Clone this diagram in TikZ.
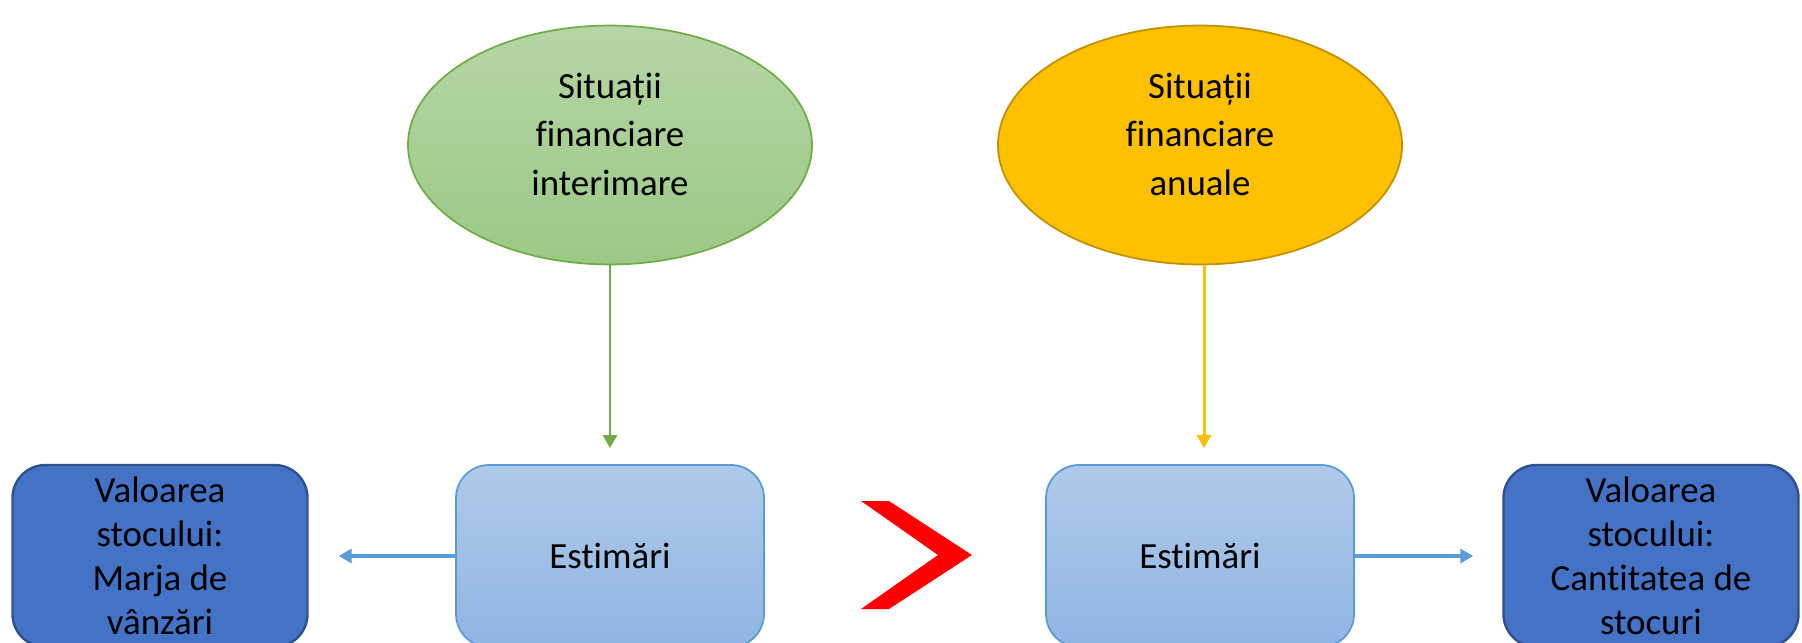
\documentclass[tikz,border=0pt]{standalone}
\usepackage{fontspec}
\setmainfont{Carlito}[Ligatures=NoCommon]
\usepackage{tikz}
\usetikzlibrary{arrows.meta,shapes.geometric}
\definecolor{leafline}{HTML}{70AD47}
\definecolor{leaftop}{HTML}{B5D5A5}
\definecolor{leafbot}{HTML}{9BC985}
\definecolor{goldfill}{HTML}{FFC000}
\definecolor{goldline}{HTML}{BF9000}
\definecolor{skyline}{HTML}{5B9BD5}
\definecolor{skytop}{HTML}{AFCAE9}
\definecolor{skybot}{HTML}{8FB5E3}
\definecolor{navyfill}{HTML}{4472C4}
\definecolor{navyline}{HTML}{2F528F}
\newcommand{\ovaltext}[1]{\raisebox{0.8mm}[\height][\depth]{\begin{tabular}{@{}c@{}}#1\end{tabular}}}

\begin{document}
\begin{tikzpicture}[x=0.1mm,y=-0.1mm]
        \tikzset{arr/.style={-{Triangle[length=1.3mm, width=1.4mm]}, line width=0.85pt},
                 oval/.style={ellipse, minimum width=40.4mm, minimum height=23.4mm, line width=0.5pt, font=\fontsize{10.5}{13.8}\selectfont},
                 estbox/.style={rectangle, rounded corners=3.3mm, minimum width=30.8mm, minimum height=18.2mm, draw=skyline, top color=skytop, bottom color=skybot, line width=0.5pt, font=\fontsize{10.5}{12.5}\selectfont},
                 valbox/.style={rectangle, rounded corners=3.3mm, minimum width=29.5mm, minimum height=18.2mm, inner sep=0pt, align=center, draw=navyline, fill=navyfill, line width=0.7pt, font=\fontsize{10.5}{12.5}\selectfont}}
        \useasboundingbox (0,0) rectangle (1802,643);
        \clip (0,0) rectangle (1802,643);
        % statements on top
        \node[oval, draw=leafline, top color=leaftop, bottom color=leafbot] (interim) at (610,145) {\ovaltext{Situații\\financiare\\interimare}};
        \node[oval, draw=goldline, fill=goldfill] (anual) at (1200,145) {\ovaltext{Situații\\financiare\\anuale}};
        
        % estimates and stock values
        \node[estbox] (est1) at (610,556) {Estimări};
        \node[estbox] (est2) at (1200,556) {Estimări};
        \node[valbox] (val1) at (160,556) {Valoarea\\stocului:\\Marja de\\vânzări};
        \node[valbox] (val2) at (1651,556) {Valoarea\\stocului:\\Cantitatea de\\stocuri};
        
        \draw[arr, leafline, shorten >=1.6mm] (interim) -- (est1);
        \draw[arr, goldfill, shorten >=1.6mm] ([xshift=0.4mm]anual.south) -- ([xshift=0.4mm]est2.north);
        \draw[arr, skyline, line width=1pt, shorten >=3mm] (est1) -- (val1);
        \draw[arr, skyline, line width=1pt, shorten >=2.9mm] (est2) -- (val2);
        
        % greater than sign
        \fill[red] (861,501) -- (889,501) -- (972,555) -- (889,609) -- (861,609) -- (938,555) -- cycle;
\end{tikzpicture}
\end{document}
